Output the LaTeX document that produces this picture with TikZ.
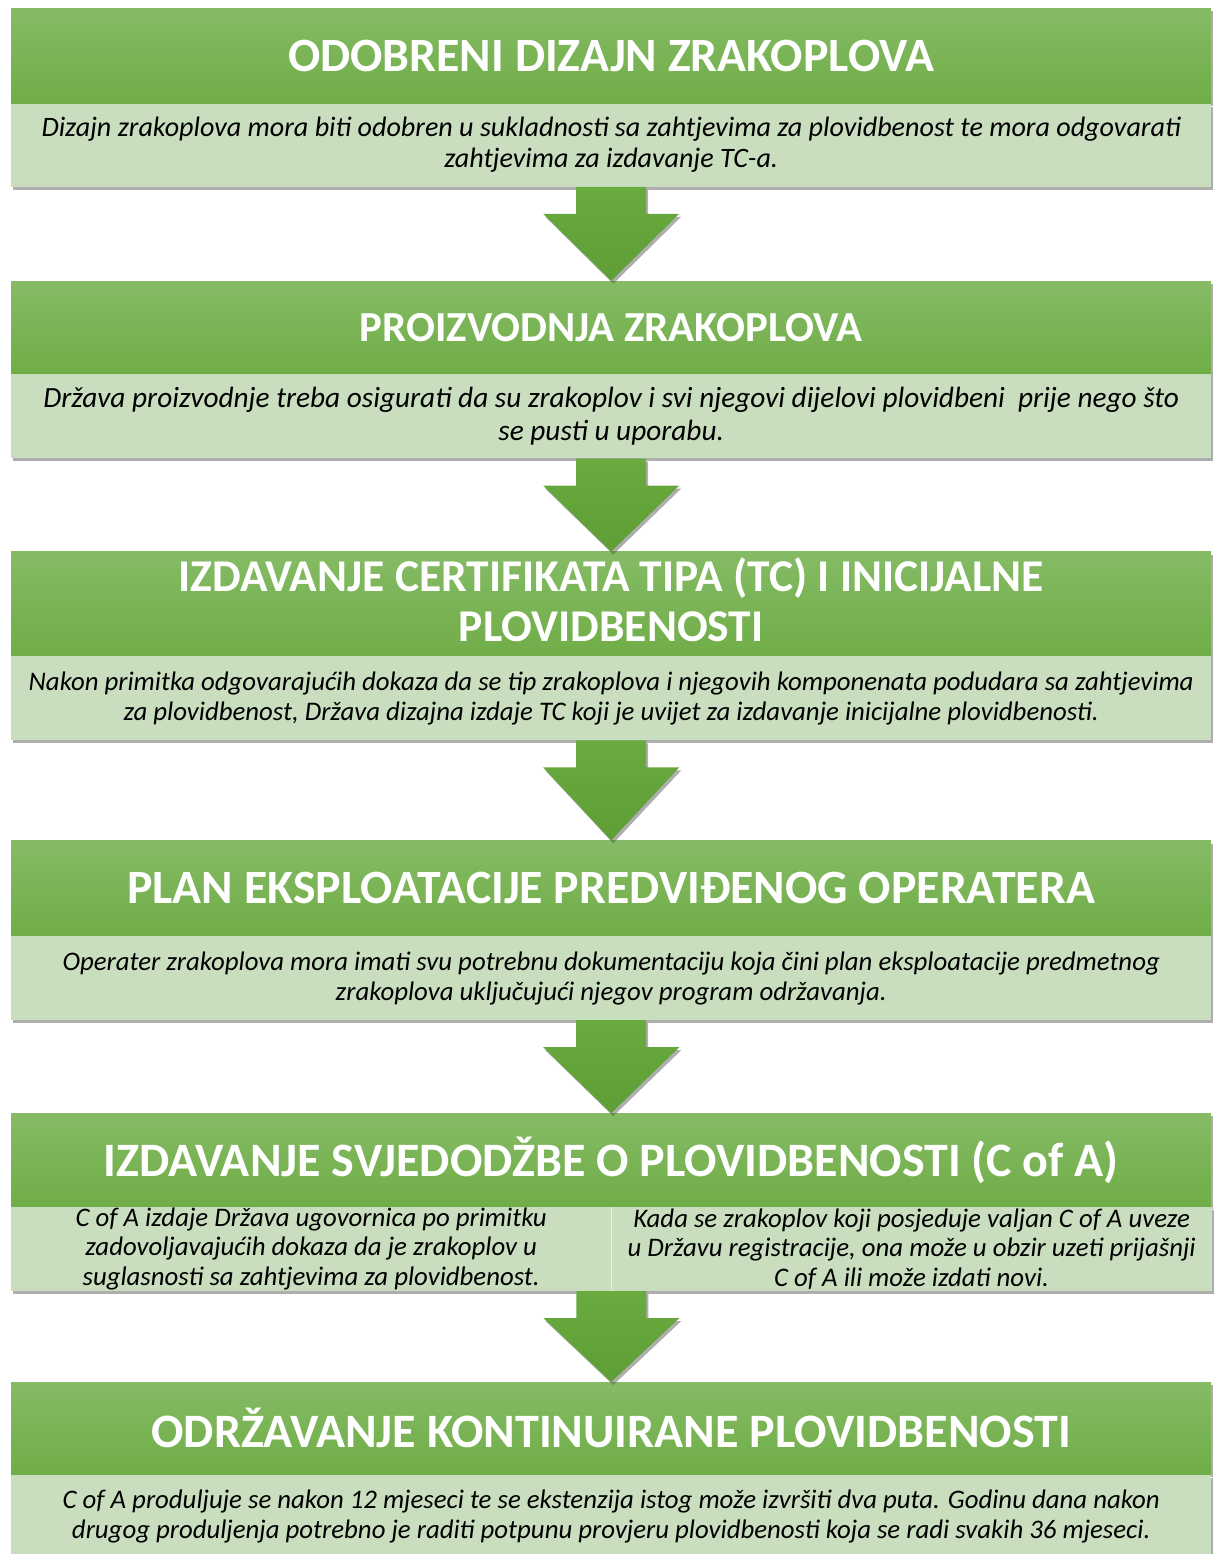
\documentclass[tikz,border=0pt]{standalone}
\usepackage{fontspec}
\setmainfont{Carlito}
\usetikzlibrary{positioning,shadows,calc}

\definecolor{hdtop}{HTML}{85BB65}
\definecolor{hdbot}{HTML}{70AD47}
\definecolor{bdfill}{HTML}{C9DDBF}
\definecolor{arrtop}{HTML}{69AB3F}
\definecolor{arrbot}{HTML}{5E9E35}

\tikzset{
  blockshadow/.style={drop shadow={shadow xshift=2pt, shadow yshift=-3pt, opacity=0.45, fill=black!70}},
  header/.style={rectangle, inner sep=0pt, minimum width=1200pt, minimum height=94pt,
    top color=hdtop, bottom color=hdbot, text=white, align=center, blockshadow},
  body/.style={rectangle, inner sep=0pt, fill=bdfill, minimum width=1200pt, minimum height=84pt,
    align=center, font=\itshape\fontsize{26.8}{30}\selectfont, blockshadow},
  halfbody/.style={body, minimum width=600pt},
  flowarr/.style={top color=arrtop, bottom color=arrbot, blockshadow},
}

% strelica od tijela bloka do zaglavlja sljedeceg
\newcommand{\flowarrow}[2]{%
  \path[flowarr] ($#1+(-35,0)$) -- ($#1+(35,0)$) -- ($#1+(35,27)$) -- ($#1+(68,27)$)
    -- #2 -- ($#1+(-68,27)$) -- ($#1+(-35,27)$) -- cycle;}

\begin{document}
\begin{tikzpicture}[x=1pt, y=-1pt]
  \useasboundingbox (0,0) rectangle (1213,1554);

  % 1
  \node[header, minimum height=95pt, anchor=north west, font=\bfseries\fontsize{47.8}{52}\selectfont]
    (hd1) at (11,8) {ODOBRENI DIZAJN ZRAKOPLOVA};
  \node[body, minimum height=83pt, below=0pt of hd1, font=\itshape\fontsize{28.1}{31}\selectfont] (bd1)
    {Dizajn zrakoplova mora biti odobren u sukladnosti sa zahtjevima za plovidbenost te mora odgovarati\\
     zahtjevima za izdavanje TC-a.};

  % 2
  \node[header, minimum height=93pt, below=94pt of bd1, font=\bfseries\fontsize{42.8}{48}\selectfont]
    (hd2) {PROIZVODNJA ZRAKOPLOVA};
  \node[body, below=0pt of hd2, font=\itshape\fontsize{29.3}{33}\selectfont] (bd2)
    {Država proizvodnje treba osigurati da su zrakoplov i svi njegovi dijelovi plovidbeni\ \ prije nego što\\
     se pusti u uporabu.};

  % 3
  \node[header, minimum height=104pt, below=93pt of bd2, font=\bfseries\fontsize{45.5}{50}\selectfont]
    (hd3) {IZDAVANJE CERTIFIKATA TIPA (TC) I INICIJALNE\\ PLOVIDBENOSTI\vphantom{g}};
  \node[body, below=0pt of hd3] (bd3)
    {Nakon primitka odgovarajućih dokaza da se tip zrakoplova i njegovih komponenata podudara sa zahtjevima\\
     za plovidbenost, Država dizajna izdaje TC koji je uvijet za izdavanje inicijalne plovidbenosti.};

  % 4
  \node[header, minimum height=95pt, below=100pt of bd3, font=\bfseries\fontsize{47.8}{52}\selectfont]
    (hd4) {PLAN EKSPLOATACIJE PREDVIĐENOG OPERATERA};
  \node[body, below=0pt of hd4] (bd4)
    {Operater zrakoplova mora imati svu potrebnu dokumentaciju koja čini plan eksploatacije predmetnog\\
     zrakoplova uključujući njegov program održavanja.};

  % 5
  \node[header, minimum height=93pt, below=93pt of bd4, font=\bfseries\fontsize{48}{52}\selectfont]
    (hd5) {IZDAVANJE SVJEDODŽBE O PLOVIDBENOSTI (C of A)};
  \node[halfbody, anchor=north west, font=\itshape\fontsize{26.8}{29.5}\selectfont] (bd5a) at (hd5.south west)
    {C of A izdaje Država ugovornica po primitku\\
     zadovoljavajućih dokaza da je zrakoplov u\\
     suglasnosti sa zahtjevima za plovidbenost.};
  \node[halfbody, right=0pt of bd5a, font=\itshape\fontsize{26.8}{29.5}\selectfont] (bd5b)
    {Kada se zrakoplov koji posjeduje valjan C of A uveze\\
     u Državu registracije, ona može u obzir uzeti prijašnji\\
     C of A ili može izdati novi.};
  \draw[white!55!bdfill, line width=0.8pt] (bd5a.north east) -- (bd5a.south east);

  % 6
  \node[header, minimum height=92pt, anchor=north west, font=\bfseries\fontsize{48}{52}\selectfont]
    (hd6) at ($(bd5a.south west)+(0,91)$) {ODRŽAVANJE KONTINUIRANE PLOVIDBENOSTI};
  \node[body, below=0pt of hd6] (bd6)
    {C of A produljuje se nakon 12 mjeseci te se ekstenzija istog može izvršiti dva puta. Godinu dana nakon\\
     drugog produljenja potrebno je raditi potpunu provjeru plovidbenosti koja se radi svakih 36 mjeseci.};

  % strelice
  \flowarrow{(bd1.south)}{(hd2.north)}
  \flowarrow{(bd2.south)}{(hd3.north)}
  \flowarrow{(bd3.south)}{(hd4.north)}
  \flowarrow{(bd4.south)}{(hd5.north)}
  \flowarrow{(bd5a.south east)}{(hd6.north)}
\end{tikzpicture}
\end{document}
